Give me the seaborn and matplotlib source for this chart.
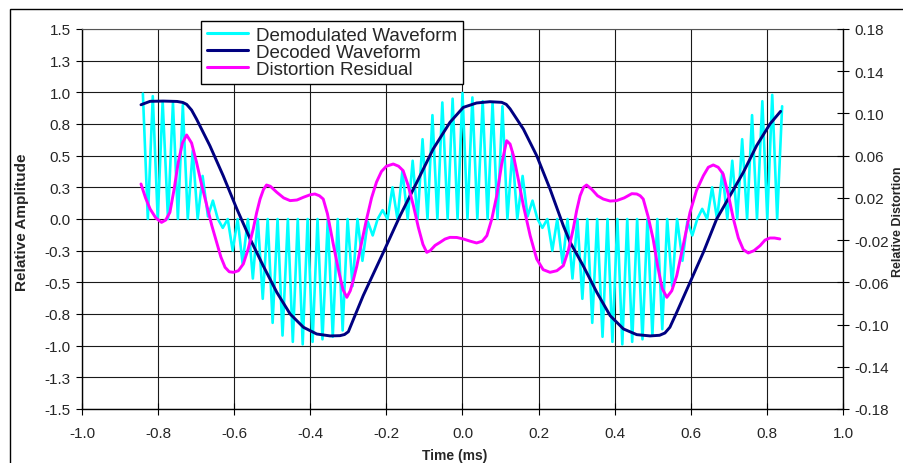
import matplotlib
matplotlib.use("Agg")
import matplotlib.pyplot as plt
import seaborn as sns
import pandas as pd
from matplotlib.lines import Line2D
from matplotlib.patches import Rectangle

# ---------------- data ----------------
series_names = ["Demodulated Waveform", "Decoded Waveform", "Distortion Residual"]
series_colors = ["#00FFFF", "#000080", "#FF00FF"]

demod_time = [-0.840, -0.827, -0.814, -0.801, -0.788, -0.774, -0.761, -0.748, -0.735, -0.722,
              -0.709, -0.696, -0.683, -0.669, -0.656, -0.643, -0.630, -0.617, -0.604, -0.591,
              -0.578, -0.564, -0.551, -0.538, -0.525, -0.512, -0.499, -0.486, -0.473, -0.459,
              -0.446, -0.433, -0.420, -0.407, -0.394, -0.381, -0.368, -0.354, -0.341, -0.328,
              -0.315, -0.302, -0.289, -0.276, -0.263, -0.249, -0.236, -0.223, -0.210, -0.197,
              -0.184, -0.171, -0.158, -0.144, -0.131, -0.118, -0.105, -0.092, -0.079, -0.066,
              -0.053, -0.039, -0.026, -0.013, 0.000,
              0.013, 0.026, 0.039, 0.053, 0.066, 0.079, 0.092, 0.105, 0.118, 0.131,
              0.144, 0.158, 0.171, 0.184, 0.197, 0.210, 0.223, 0.236, 0.249, 0.263,
              0.276, 0.289, 0.302, 0.315, 0.328, 0.341, 0.354, 0.368, 0.381, 0.394,
              0.407, 0.420, 0.433, 0.446, 0.459, 0.473, 0.486, 0.499, 0.512, 0.525,
              0.538, 0.551, 0.564, 0.578, 0.591, 0.604, 0.617, 0.630, 0.643, 0.656,
              0.669, 0.683, 0.696, 0.709, 0.722, 0.735, 0.748, 0.761, 0.774, 0.788,
              0.801, 0.814, 0.827, 0.840]

demod_amp = [0.99, 0.0, 0.97, 0.0, 0.93, 0.0, 0.92, 0.0, 0.90, 0.0,
             0.54, 0.0, 0.34, 0.02, 0.145, 0.0, -0.07, 0.0, -0.25, 0.0,
             -0.35, 0.0, -0.47, 0.0, -0.63, 0.0, -0.82, 0.0, -0.92, 0.0,
             -0.97, 0.0, -0.99, 0.0, -0.97, 0.0, -0.95, 0.0, -0.93, 0.0,
             -0.88, 0.0, -0.53, 0.0, -0.33, -0.02, -0.13, 0.0, 0.07, 0.0,
             0.25, 0.0, 0.38, 0.0, 0.46, 0.0, 0.63, 0.0, 0.82, 0.0,
             0.92, 0.0, 0.95, 0.0,
             0.995,
             0.0, 0.96, 0.0, 0.93, 0.0, 0.92, 0.0, 0.89, 0.0, 0.53,
             0.0, 0.34, 0.02, 0.145, 0.0, -0.07, 0.0, -0.25, 0.0, -0.35,
             0.0, -0.47, 0.0, -0.63, 0.0, -0.82, 0.0, -0.93, 0.0, -0.97,
             0.0, -0.99, 0.0, -0.97, 0.0, -0.95, 0.0, -0.92, 0.0, -0.87,
             0.0, -0.53, 0.0, -0.33, -0.02, -0.13, 0.0, 0.08, 0.0, 0.25,
             0.0, 0.37, 0.0, 0.46, 0.0, 0.63, 0.0, 0.82, 0.0, 0.93,
             0.0, 0.98, 0.0, 0.89]

decoded_time = [-0.845, -0.821, -0.786, -0.750, -0.735, -0.725, -0.712, -0.699, -0.664, -0.629,
                -0.593, -0.558, -0.524, -0.488, -0.453, -0.418, -0.383, -0.348, -0.322, -0.310,
                -0.300, -0.285, -0.261, -0.208, -0.164, -0.120, -0.077, -0.033, 0.002, 0.037,
                0.072, 0.103, 0.115, 0.125, 0.160, 0.195, 0.230, 0.265, 0.283, 0.317,
                0.353, 0.388, 0.423, 0.458, 0.493, 0.518, 0.532, 0.545, 0.563, 0.598,
                0.633, 0.668, 0.703, 0.738, 0.773, 0.808, 0.836]
decoded_amp = [0.902, 0.929, 0.931, 0.928, 0.920, 0.905, 0.860, 0.789, 0.579, 0.342,
               0.079, -0.158, -0.368, -0.579, -0.750, -0.855, -0.908, -0.923, -0.921, -0.912,
               -0.890, -0.780, -0.605, -0.263, 0.026, 0.290, 0.553, 0.763, 0.881, 0.916,
               0.926, 0.921, 0.905, 0.870, 0.710, 0.500, 0.237, -0.053, -0.184, -0.368,
               -0.579, -0.763, -0.868, -0.913, -0.923, -0.918, -0.900, -0.855, -0.737, -0.500,
               -0.263, 0.000, 0.184, 0.368, 0.579, 0.750, 0.850]

resid_time = [-0.845, -0.833, -0.821, -0.806, -0.791, -0.780, -0.769, -0.758, -0.747, -0.736,
              -0.725, -0.712, -0.699, -0.686, -0.672, -0.659, -0.646, -0.635, -0.624, -0.613,
              -0.602, -0.589, -0.576, -0.563, -0.550, -0.541, -0.532, -0.523, -0.515, -0.505,
              -0.488, -0.470, -0.453, -0.435, -0.418, -0.400, -0.388, -0.376, -0.366, -0.355,
              -0.339, -0.325, -0.314, -0.304, -0.295, -0.287, -0.278, -0.265, -0.252, -0.239,
              -0.226, -0.213, -0.200, -0.182, -0.168, -0.156, -0.143, -0.129, -0.116, -0.104,
              -0.094, -0.085, -0.072, -0.059, -0.046, -0.033, -0.015, 0.002, 0.020, 0.037,
              0.052, 0.064, 0.077, 0.090, 0.103, 0.116, 0.125, 0.134, 0.147, 0.160,
              0.178, 0.195, 0.212, 0.230, 0.248, 0.265, 0.278, 0.291, 0.300, 0.309,
              0.318, 0.326, 0.340, 0.355, 0.370, 0.388, 0.405, 0.425, 0.445, 0.458,
              0.467, 0.475, 0.488, 0.501, 0.513, 0.525, 0.537, 0.550, 0.563, 0.580,
              0.598, 0.615, 0.633, 0.646, 0.659, 0.672, 0.685, 0.698, 0.712, 0.725,
              0.738, 0.751, 0.766, 0.782, 0.795, 0.808, 0.820, 0.834]
resid_val = [0.0332, 0.0200, 0.0095, 0.0010, -0.0032, -0.0010, 0.0063, 0.0280, 0.0537, 0.0720,
             0.0796, 0.0720, 0.0537, 0.0330, 0.0126, -0.0060, -0.0221, -0.0360, -0.0458, -0.0500,
             -0.0505, -0.0490, -0.0426, -0.0280, -0.0095, 0.0060, 0.0189, 0.0280, 0.0322, 0.0310,
             0.0253, 0.0200, 0.0174, 0.0180, 0.0206, 0.0230, 0.0237, 0.0220, 0.0189, 0.0050,
             -0.0250, -0.0500, -0.0670, -0.0742, -0.0680, -0.0580, -0.0450, -0.0220, 0.0000, 0.0200,
             0.0350, 0.0450, 0.0500, 0.0521, 0.0500, 0.0458, 0.0320, 0.0126, -0.0080, -0.0240,
             -0.0316, -0.0300, -0.0250, -0.0221, -0.0190, -0.0174, -0.0175, -0.0189, -0.0210, -0.0227,
             -0.0210, -0.0158, 0.0000, 0.0221, 0.0520, 0.0742, 0.0710, 0.0600, 0.0370, 0.0126,
             -0.0160, -0.0379, -0.0480, -0.0505, -0.0490, -0.0442, -0.0300, -0.0095, 0.0080, 0.0220,
             0.0300, 0.0322, 0.0280, 0.0220, 0.0189, 0.0170, 0.0174, 0.0200, 0.0240, 0.0237,
             0.0220, 0.0189, 0.0020, -0.0189, -0.0450, -0.0660, -0.0742, -0.0680, -0.0537, -0.0250,
             0.0063, 0.0270, 0.0410, 0.0490, 0.0512, 0.0490, 0.0426, 0.0240, 0.0000, -0.0180,
             -0.0290, -0.0322, -0.0300, -0.0253, -0.0200, -0.0180, -0.0180, -0.0189]

x_ticks = [-1.0, -0.8, -0.6, -0.4, -0.2, 0.0, 0.2, 0.4, 0.6, 0.8, 1.0]
x_tick_labels = ["-1.0", "-0.8", "-0.6", "-0.4", "-0.2", "0.0", "0.2", "0.4", "0.6", "0.8", "1.0"]
left_ticks = [-1.5, -1.25, -1.0, -0.75, -0.5, -0.25, 0.0, 0.25, 0.5, 0.75, 1.0, 1.25, 1.5]
left_tick_labels = ["-1.5", "-1.3", "-1.0", "-0.8", "-0.5", "-0.3", "0.0", "0.3", "0.5", "0.8",
                    "1.0", "1.3", "1.5"]
right_ticks = [-0.18, -0.14, -0.10, -0.06, -0.02, 0.02, 0.06, 0.10, 0.14, 0.18]
right_tick_labels = ["-0.18", "-0.14", "-0.10", "-0.06", "-0.02", "0.02", "0.06", "0.10", "0.14", "0.18"]

x_label = "Time (ms)"
left_label = "Relative Amplitude"
right_label = "Relative Distortion"

# ---------------- drawing ----------------
sns.set_theme(style="white")
plt.rcParams["font.family"] = ["Liberation Sans", "DejaVu Sans"]

W, H = 904, 464
fig = plt.figure(figsize=(W / 100, H / 100), dpi=100)
fig.patch.set_facecolor("white")
ax = fig.add_axes([82 / W, 1 - 410 / H, (843 - 82) / W, 380 / H])
ax2 = ax.twinx()

df_demod = pd.DataFrame({"t": demod_time, "v": demod_amp})
df_dec = pd.DataFrame({"t": decoded_time, "v": decoded_amp})
df_res = pd.DataFrame({"t": resid_time, "v": resid_val})

sns.lineplot(data=df_demod, x="t", y="v", ax=ax, color=series_colors[0], lw=1.9,
             sort=False, estimator=None, zorder=3)
sns.lineplot(data=df_dec, x="t", y="v", ax=ax, color=series_colors[1], lw=2.1,
             sort=False, estimator=None, zorder=4)
sns.lineplot(data=df_res, x="t", y="v", ax=ax2, color=series_colors[2], lw=2.1,
             sort=False, estimator=None, zorder=5)

ax.set_xlim(-1.0, 1.0)
ax.set_ylim(-1.5, 1.5)
ax2.set_ylim(-0.18, 0.18)

ax.set_xticks(x_ticks)
ax.set_xticklabels(x_tick_labels)
ax.set_yticks(left_ticks)
ax.set_yticklabels(left_tick_labels)
ax2.set_yticks(right_ticks)
ax2.set_yticklabels(right_tick_labels)

ax.set_xlabel("")
ax.set_ylabel("")
ax2.set_ylabel("")

ax.grid(True, color="#1a1a1a", lw=0.8)
ax.set_axisbelow(True)

tick_font = 11
ax.tick_params(axis="y", which="both", direction="out", length=4, width=0.8,
               color="black", labelsize=tick_font, pad=4, left=True)
ax.tick_params(axis="x", which="both", direction="inout", length=8, width=0.8,
               color="black", labelsize=tick_font, pad=8, bottom=True)
ax2.tick_params(axis="y", which="both", direction="inout", length=8, width=0.8,
                color="black", labelsize=tick_font, pad=4, right=True)

for sp in ["left", "bottom"]:
    ax.spines[sp].set_color("black")
    ax.spines[sp].set_linewidth(1.0)
ax.spines["top"].set_color("#555555")
ax.spines["top"].set_linewidth(0.8)
ax.spines["right"].set_visible(False)
for sp in ["left", "bottom", "top"]:
    ax2.spines[sp].set_visible(False)
ax2.spines["right"].set_color("black")
ax2.spines["right"].set_linewidth(1.0)

# axis titles
fig.text(22 / W, 1 - 222 / H, left_label, rotation=90, ha="center", va="center",
         fontweight="bold", fontsize=11)
fig.text(455 / W, 1 - 456 / H, x_label, ha="center", va="center",
         fontweight="bold", fontsize=10)
fig.text(892 / W, 1 - 222 / H, right_label, rotation=90, ha="left", va="center",
         fontweight="bold", fontsize=9)

# legend
handles = [Line2D([0], [0], color=c, lw=2.2) for c in series_colors]
leg = fig.legend(handles, series_names, loc="upper left",
                 bbox_to_anchor=(201 / W, 1 - 22 / H), bbox_transform=fig.transFigure,
                 frameon=True, fancybox=False, framealpha=1, edgecolor="black",
                 fontsize=13.5, handlelength=2.2, handletextpad=0.45, labelspacing=0.0,
                 borderpad=0.3, borderaxespad=0)
leg.get_frame().set_linewidth(1.0)
leg.set_zorder(10)

# outer chart border
fig.add_artist(Rectangle((10 / W, -0.2), 1.3, 1 - 10 / H + 0.2, fill=False,
                         edgecolor="black", lw=1.0, transform=fig.transFigure))

fig.savefig("out.png", dpi=100, facecolor="white")
